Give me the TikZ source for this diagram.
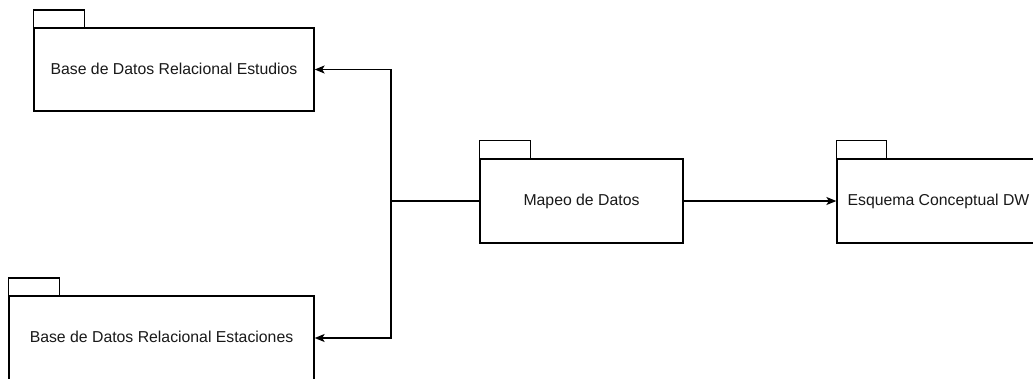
\documentclass[tikz,border=0pt]{standalone}
\usepackage{fontspec}
\setmainfont{Liberation Sans}
\usetikzlibrary{arrows.meta}
\begin{document}
\begin{tikzpicture}[x=1pt,y=-1pt,
  pkg/.style={draw=black, line width=1.3pt, fill=white, rectangle, inner sep=0pt,
    font=\fontsize{15.8}{19}\selectfont, text=black!90},
  tab/.style={draw=black, line width=1.3pt},
  conn/.style={draw=black, line width=1.3pt},
  arr/.style={conn, -{Stealth[length=10pt,width=8pt,inset=2.5pt]}}]
\fill[white] (0,0) rectangle (1033,378);
\useasboundingbox (0,0) rectangle (1033,378);
\begin{scope}
\clip (0,0) rectangle (1033,378);
% packages
\node[pkg, minimum width=280pt, minimum height=83pt] (est) at (174,69.5) {\raisebox{2pt}{Base de Datos Relacional Estudios}};
\node[pkg, overlay, minimum width=305pt, minimum height=84pt] (estac) at (161.5,338) {\raisebox{2pt}{Base de Datos Relacional Estaciones}};
\node[pkg, minimum width=203pt, minimum height=84pt] (map) at (581.5,201) {\raisebox{2pt}{Mapeo de Datos}};
\node[pkg, overlay, minimum width=203pt, minimum height=84pt] (esq) at (938.5,201) {\raisebox{2pt}{Esquema Conceptual DW}};
% tabs
\draw[tab] (est.north west) rectangle ++(51,-17.5);
\draw[tab] (estac.north west) rectangle ++(51,-17.5);
\draw[tab] (map.north west) rectangle ++(51,-18);
\draw[tab] (esq.north west) rectangle ++(50,-18);
% connectors
\coordinate (j) at (391,201);
\draw[conn] (map.west) -- (j);
\draw[arr] (j) |- (est.east);
\draw[arr] (j) |- (estac.east);
\draw[arr] (map.east) -- (esq.west);
\end{scope}
\end{tikzpicture}
\end{document}
